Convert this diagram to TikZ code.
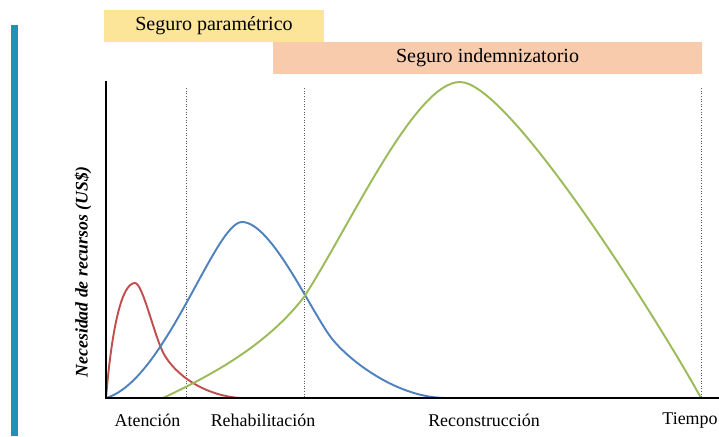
\documentclass[tikz,border=0pt]{standalone}
\usepackage{fontspec}
\setmainfont{Liberation Serif}
\usepackage{tikz}
\usetikzlibrary{positioning}

\definecolor{barblue}{RGB}{33,145,184}
\definecolor{paramyellow}{RGB}{252,229,152}
\definecolor{indemsalmon}{RGB}{248,203,173}
\definecolor{curvered}{RGB}{192,80,77}
\definecolor{curveblue}{RGB}{79,129,189}
\definecolor{curvegreen}{RGB}{155,187,89}

\begin{document}
\begin{tikzpicture}[
        x=0.02cm, y=0.02cm,
        band/.style={rectangle, inner sep=0pt, font=\fontsize{11.4}{13}\selectfont},
        phase/.style={inner sep=0pt, font=\fontsize{10.2}{12}\selectfont},
        divider/.style={gray!70!black, densely dotted, line width=0.5pt},
        curve/.style={line width=1.1pt},
        axis/.style={black, line width=1.1pt}
      ]
      \useasboundingbox (0,0) rectangle (719,436);
      % side bar
      \fill[barblue] (11,0) rectangle (17.5,411);
      % insurance bands
      \node[band, fill=paramyellow, minimum width=4.4cm, minimum height=0.64cm] (param) at (214,410) {Seguro paramétrico};
      \node[band, fill=indemsalmon, minimum width=8.58cm, minimum height=0.64cm] (indem) at (487.5,378) {Seguro indemnizatorio};
      % axes
      \coordinate (origin) at (106,38);
      \coordinate (ytop) at (106,355);
      \coordinate (xend) at (719,38);
      % phase dividers
      \coordinate (d1) at (186,348);
      \coordinate (d2) at (304,348);
      \coordinate (d3) at (701,348);
      \foreach \d in {d1,d2,d3}
        \draw[divider] (\d) -- (\d |- origin);
      % curves
      \draw[curve, curvered] (origin) .. controls (112,110) and (122,153) .. (135,153)
        .. controls (143,153) and (155,96) .. (165,80)
        .. controls (180,56) and (210,40) .. (240,38);
      \draw[curve, curveblue] (origin) .. controls (165,55) and (215,214) .. (242,214)
        .. controls (272,214) and (313,120) .. (333,96)
        .. controls (353,72) and (400,38) .. (446,38);
      \draw[curve, curvegreen] (163,38) .. controls (203,57) and (264,87) .. (304,139)
        .. controls (350,210) and (415,354) .. (460,354)
        .. controls (510,354) and (665,104) .. (d3 |- origin);
      \draw[axis] (ytop) -- (origin) -- (xend);
      % labels
      \node[phase] (atencion) at (147.5,16) {Atención};
      \node[phase] (rehab) at (263,16) {Rehabilitación};
      \node[phase] (recons) at (484,16) {Reconstrucción};
      \node[phase] (tiempo) at (690,16) {Tiempo};
      \node[phase, rotate=90, font=\fontsize{10.1}{12}\selectfont\bfseries\itshape] (ylabel) at (83,164) {Necesidad de recursos (US\$)};
\end{tikzpicture}
\end{document}
